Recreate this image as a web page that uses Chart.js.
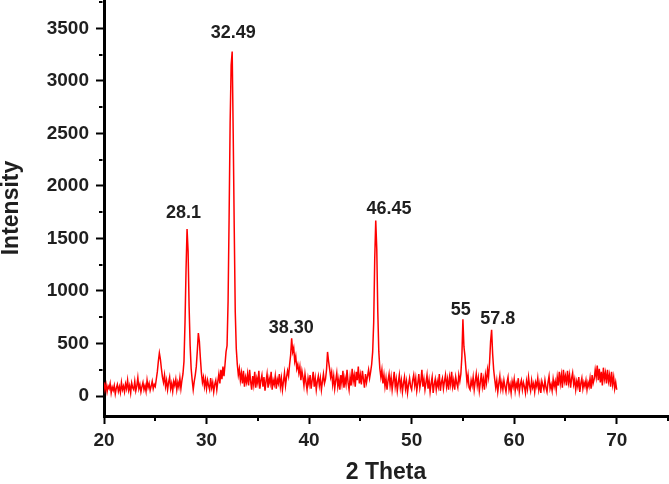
<!DOCTYPE html>
<html>
<head>
<meta charset="utf-8">
<script src="https://cdn.jsdelivr.net/npm/chart.js@4/dist/chart.umd.min.js"></script>
<style>
  html, body { margin: 0; padding: 0; background: #ffffff; }
  #wrap { width: 669px; height: 484px; position: relative; }
</style>
</head>
<body>
<div id="wrap"><canvas id="c" width="669" height="484"></canvas></div>
<script>
// ---- data ----
const thetaStart = 20;      // first 2θ value (degrees)
const thetaStep = 0.1;      // sampling step (degrees)
const intensity = [
  130, 60, 110, 40, 95, 70, 120, 30, 85, 55,          // 20
  100, 20, 75, 110, 45, 90, 35, 130, 60, 95,          // 21
  40, 115, 70, 150, 55, 100, 30, 125, 80, 60,         // 22
  140, 50, 95, 175, 70, 110, 40, 90, 130, 60,         // 23
  100, 45, 150, 80, 120, 55, 95, 140, 70, 110,        // 24
  90, 160, 230, 330, 410, 350, 260, 180, 130, 200,    // 25
  90, 150, 60, 130, 180, 70, 120, 45, 140, 100,       // 26
  160, 60, 130, 85, 170, 70, 150, 210, 330, 700,      // 27
  1200, 1590, 1380, 850, 480, 260, 150, 60, 140, 200, // 28
  280, 430, 600, 520, 360, 220, 130, 180, 90, 160,    // 29
  70, 150, 100, 60, 170, 80, 130, 40, 110, 150,       // 30
  60, 140, 210, 120, 250, 160, 280, 190, 300, 420,    // 31
  480, 900, 1700, 2600, 3150, 3280, 2500, 1600, 800, 450, // 32
  300, 200, 260, 150, 220, 120, 240, 90, 180, 130,    // 33
  210, 100, 250, 140, 60, 190, 110, 230, 80, 170,     // 34
  120, 240, 70, 150, 200, 90, 180, 50, 140, 210,      // 35
  80, 170, 120, 230, 60, 150, 110, 190, 70, 160,      // 36
  120, 210, 90, 170, 60, 140, 220, 100, 180, 240,     // 37
  190, 300, 390, 550, 420, 460, 330, 380, 260, 300,   // 38
  220, 280, 150, 240, 180, 100, 210, 130, 60, 170,    // 39
  110, 200, 70, 150, 230, 90, 170, 60, 140, 190,      // 40
  100, 170, 60, 140, 210, 120, 160, 250, 420, 330,    // 41
  260, 180, 230, 110, 190, 70, 150, 220, 90, 160,     // 42
  60, 200, 120, 240, 80, 170, 110, 250, 130, 60,      // 43
  180, 100, 260, 140, 200, 90, 230, 150, 280, 120,    // 44
  200, 110, 240, 160, 80, 210, 130, 190, 250, 170,    // 45
  230, 300, 420, 700, 1300, 1670, 1400, 800, 420, 260,// 46
  180, 250, 120, 200, 90, 170, 60, 150, 210, 100,     // 47
  180, 60, 140, 230, 90, 160, 50, 130, 200, 80,       // 48
  150, 40, 120, 180, 70, 140, 30, 110, 170, 90,       // 49
  60, 150, 200, 100, 170, 50, 120, 210, 80, 140,      // 50
  250, 90, 160, 60, 130, 200, 70, 150, 40, 120,       // 51
  180, 30, 110, 160, 60, 140, 90, 210, 50, 130,       // 52
  170, 70, 140, 200, 90, 160, 60, 180, 110, 230,      // 53
  90, 150, 60, 180, 120, 80, 200, 140, 210, 380,      // 54
  730, 470, 380, 250, 130, 200, 80, 60, 150, 100,     // 55
  180, 60, 140, 210, 100, 170, 50, 130, 220, 90,      // 56
  160, 60, 200, 130, 250, 180, 320, 520, 630, 400,    // 57
  250, 160, 80, 150, 40, 120, 190, 70, 130, 60,       // 58
  150, 90, 40, 130, 180, 60, 110, 30, 140, 90,        // 59
  160, 50, 120, 80, 170, 40, 110, 150, 60, 130,       // 60
  90, 30, 140, 70, 180, 100, 50, 150, 80, 120,        // 61
  40, 130, 90, 170, 60, 120, 30, 140, 100, 60,        // 62
  150, 80, 40, 130, 190, 70, 110, 50, 160, 90,        // 63
  140, 60, 180, 100, 230, 120, 200, 80, 250, 140,     // 64
  190, 100, 240, 130, 200, 80, 170, 220, 110, 160,    // 65
  60, 140, 90, 180, 40, 120, 170, 70, 130, 90,        // 66
  150, 60, 130, 90, 170, 70, 200, 120, 160, 250,      // 67
  180, 290, 150, 260, 130, 230, 100, 270, 160, 220,   // 68
  120, 250, 140, 200, 90, 230, 110, 180, 70, 130,     // 69
  60                                                  // 70
];
const xTickLabels = [20, 30, 40, 50, 60, 70];
const yTickLabels = [0, 500, 1000, 1500, 2000, 2500, 3000, 3500];
const xMinorTicks = [25, 35, 45, 55, 65, 75];
const yMinorTicks = [250, 750, 1250, 1750, 2250, 2750, 3250, 3750];
const peakTexts = ['28.1', '32.49', '38.30', '46.45', '55', '57.8'];
const peakTextTheta = [27.76, 32.6, 38.26, 47.8, 54.8, 58.4];
const peakTextIntensity = [1738, 3457, 648, 1781, 819, 733];

// ---- build points ----
const points = intensity.map((v, i) => ({ x: +(thetaStart + i * thetaStep).toFixed(2), y: v }));

const TXT = '#1f1f1f';
const FONT = "'Liberation Sans', Arial, sans-serif";

const extras = {
  id: 'extras',
  afterDraw(chart) {
    const ctx = chart.ctx;
    const xs = chart.scales.x, ys = chart.scales.y;
    ctx.save();
    ctx.strokeStyle = '#000';
    ctx.lineWidth = 2;
    xMinorTicks.forEach(v => {
      const px = Math.round(xs.getPixelForValue(v));
      ctx.beginPath();
      ctx.moveTo(px, xs.top + 1.5);
      ctx.lineTo(px, xs.top + 5);
      ctx.stroke();
    });
    yMinorTicks.forEach(v => {
      const py = Math.round(ys.getPixelForValue(v));
      ctx.beginPath();
      ctx.moveTo(ys.right - 1.5, py);
      ctx.lineTo(ys.right - 5, py);
      ctx.stroke();
    });
    ctx.fillStyle = TXT;
    ctx.font = "bold 18px " + FONT;
    ctx.textAlign = 'center';
    ctx.textBaseline = 'middle';
    peakTexts.forEach((t, i) => {
      ctx.fillText(t, xs.getPixelForValue(peakTextTheta[i]), ys.getPixelForValue(peakTextIntensity[i]));
    });
    ctx.restore();
  }
};

new Chart(document.getElementById('c'), {
  type: 'line',
  data: {
    datasets: [{
      data: points,
      borderColor: '#ff0000',
      borderWidth: 1.5,
      pointRadius: 0,
      tension: 0,
      fill: false
    }]
  },
  options: {
    responsive: false,
    animation: false,
    layout: { padding: { left: 0, right: 1, top: 0, bottom: 0 } },
    plugins: { legend: { display: false }, tooltip: { enabled: false } },
    scales: {
      x: {
        type: 'linear',
        min: 20, max: 75,
        afterBuildTicks: s => { s.ticks = xTickLabels.map(v => ({ value: v })); },
        afterFit: s => { s.height = 68; s.paddingLeft = 0; s.paddingRight = 0; },
        grid: { drawOnChartArea: false, drawTicks: true, tickLength: 8, tickColor: '#000', tickWidth: 2 },
        border: { display: true, color: '#000', width: 3 },
        ticks: { color: TXT, font: { family: FONT, size: 19, weight: 'bold' }, padding: 5, maxRotation: 0, callback: v => String(v) },
        title: { display: true, text: '2 Theta', color: TXT, font: { family: FONT, size: 23, weight: 'bold', lineHeight: 1 }, padding: { top: 0, bottom: 0 } }
      },
      y: {
        type: 'linear',
        min: -190, max: 3770,
        afterBuildTicks: s => { s.ticks = yTickLabels.map(v => ({ value: v })); },
        afterFit: s => { s.width = 104; s.paddingTop = 0; s.paddingBottom = 0; },
        grid: { drawOnChartArea: false, drawTicks: true, tickLength: 8, tickColor: '#000', tickWidth: 2 },
        border: { display: true, color: '#000', width: 3 },
        ticks: { color: TXT, font: { family: FONT, size: 19, weight: 'bold' }, padding: 7, callback: v => String(v) },
        title: { display: true, text: 'Intensity', color: TXT, font: { family: FONT, size: 23, weight: 'bold', lineHeight: 1 }, padding: { top: 0, bottom: 0 } }
      }
    }
  },
  plugins: [extras]
});
</script>
</body>
</html>
